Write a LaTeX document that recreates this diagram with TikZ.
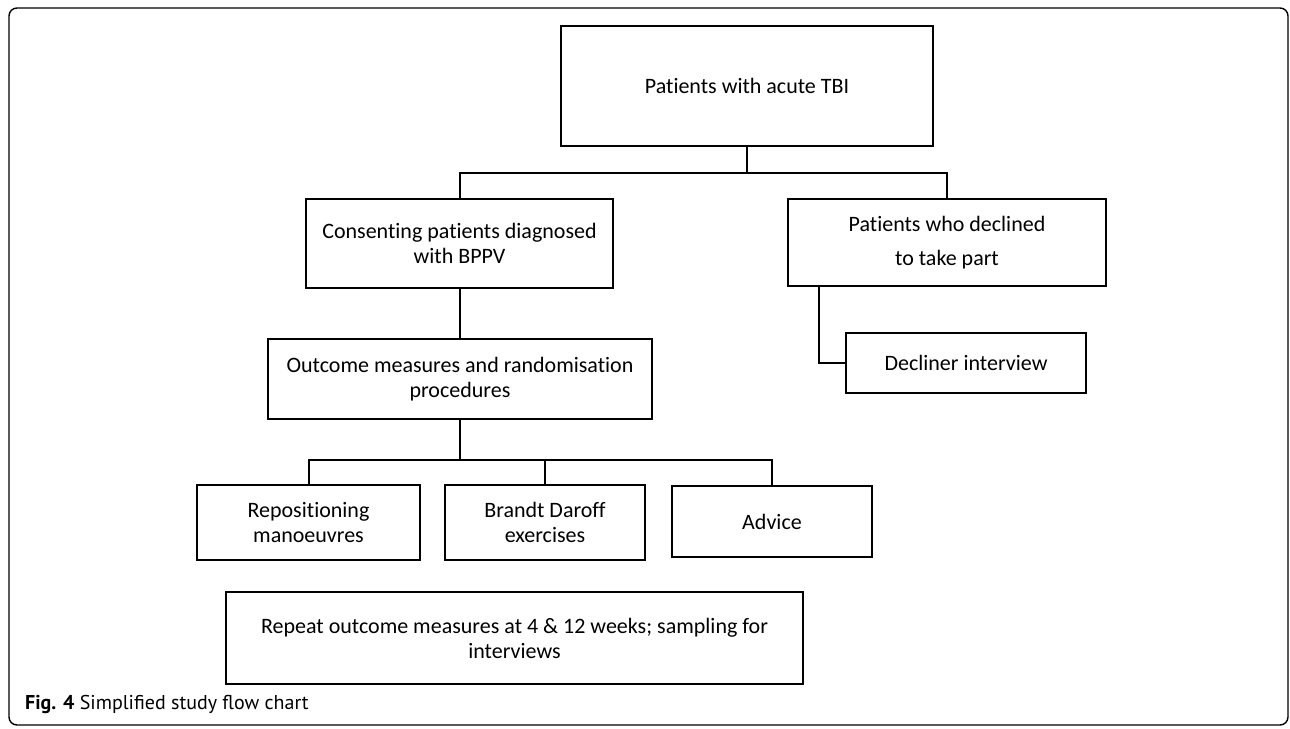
\documentclass[tikz,border=0pt]{standalone}
\usepackage{fontspec}
\setmainfont{Carlito}[Ligatures=NoCommon]
\newfontfamily\capfont{PT Sans}

\begin{document}
\begin{tikzpicture}
  [x=1pt,y=-1pt,
   box/.style={draw,line width=2pt,inner sep=0pt,align=center,
     font=\fontsize{22}{25}\selectfont},
   link/.style={line width=2pt}]

  \useasboundingbox (0,0) rectangle (1290,728);
  \draw [rounded corners=8pt,line width=1.4pt] (9,8) rectangle (1288,725);

  \node [box,minimum width=372,minimum height=120] (tbi) at (747,86) {Patients with acute TBI};

  \node [box,minimum width=307,minimum height=89] (cons) at (459.5,243.5) {Consenting patients diagnosed\\with BPPV};
  \node [box,minimum width=318,minimum height=87] (decl) at (947,242.5) {Patients who declined\\[9pt]to take part};
  \node [box,minimum width=240,minimum height=60] (dint) at (966,363) {Decliner interview};

  \node [box,minimum width=384,minimum height=80] (outc) at (460,379) {Outcome measures and randomisation\\procedures};

  \node [box,minimum width=223,minimum height=75] (repos) at (308.5,522.5) {Repositioning\\manoeuvres};
  \node [box,minimum width=200,minimum height=75] (brandt) at (545,522.5) {Brandt Daroff\\exercises};
  \node [box,minimum width=200,minimum height=71] (advice) at (772,521.5) {Advice};

  \node [box,minimum width=577,minimum height=92] (rep) at (514.5,638) {Repeat outcome measures at 4 \& 12 weeks; sampling for\\interviews};

  \coordinate (fork1) at (747,173);
  \coordinate (fork2) at (460,460);

  \draw [link] (tbi) -- (fork1);
  \draw [link] (cons.north) |- (fork1) -| (decl.north);
  \draw [link] (cons.south) -- (cons.south |- outc.north);
  \draw [link] ([xshift=32pt]decl.south west) |- (dint.west);
  \draw [link] (outc) -- (fork2);
  \draw [link] (repos.north) |- (fork2) -| (advice.north);
  \draw [link] (brandt.north) -- (brandt.north |- fork2);

  \node [anchor=base west,inner sep=0pt,font=\capfont\fontsize{20}{24}\selectfont] (cap) at (25,709) {\textbf{Fig. 4} Simplified study flow chart};
\end{tikzpicture}
\end{document}
